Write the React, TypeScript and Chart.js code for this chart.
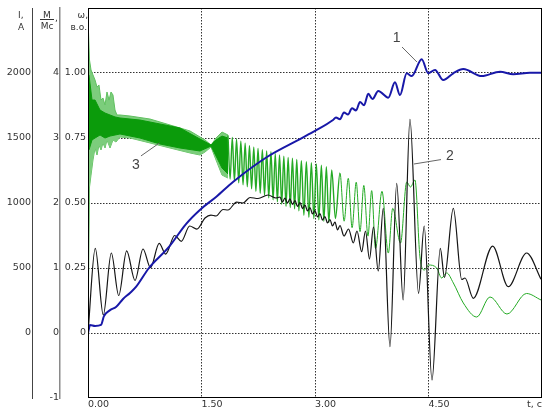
import React, { useEffect, useRef } from 'react';
import { Chart, registerables } from 'chart.js';
Chart.register(...registerables);

// ---- tick values ----
const timeTicks = [0, 1.5, 3, 4.5];
const currentTicks = [0, 500, 1000, 1500, 2000];
const torqueTicks = [-1, 0, 1, 2, 3, 4];
const speedTicks = [0, 0.25, 0.5, 0.75, 1];

// ---- curve 1: speed ω, p.u. ----
const speedT = [0, 0.009, 0.026, 0.093, 0.172, 0.211, 0.291, 0.370, 0.463, 0.555, 0.634, 0.806, 1.070, 1.295, 1.493, 1.692, 1.916, 2.366, 2.802, 3.000, 3.238, 3.277, 3.330, 3.383, 3.436, 3.489, 3.542, 3.595, 3.648, 3.704, 3.760, 3.836, 3.969, 4.057, 4.123, 4.212, 4.278, 4.410, 4.497, 4.586, 4.695, 4.828, 4.960, 5.203, 5.445, 5.620, 5.841, 5.996];
const speedW = [0, 0.012, 0.031, 0.027, 0.031, 0.065, 0.088, 0.100, 0.131, 0.154, 0.177, 0.250, 0.331, 0.419, 0.477, 0.523, 0.581, 0.677, 0.746, 0.777, 0.819, 0.829, 0.822, 0.848, 0.840, 0.864, 0.856, 0.888, 0.876, 0.920, 0.900, 0.931, 0.905, 0.964, 0.915, 0.999, 0.988, 1.053, 0.999, 1.012, 0.973, 0.999, 1.015, 0.988, 1.005, 0.995, 1.001, 1.001];

// ---- curve 2: torque M/Mc ----
const torqueT = [0, 0.096, 0.202, 0.308, 0.406, 0.511, 0.621, 0.727, 0.826, 0.941, 1.027, 1.146, 1.233, 1.344, 1.438, 1.546, 1.625, 1.692, 1.784, 1.850, 1.965, 2.048, 2.141, 2.247, 2.379, 2.484, 2.537, 2.570, 2.603, 2.636, 2.669, 2.703, 2.736, 2.769, 2.802, 2.835, 2.868, 2.901, 2.934, 2.967, 3.000, 3.033, 3.066, 3.099, 3.132, 3.165, 3.198, 3.231, 3.264, 3.297, 3.330, 3.383, 3.443, 3.506, 3.555, 3.617, 3.667, 3.720, 3.773, 3.836, 3.902, 3.991, 4.080, 4.165, 4.255, 4.368, 4.443, 4.546, 4.656, 4.711, 4.828, 4.939, 4.982, 5.092, 5.348, 5.554, 5.797, 5.987];
const torqueM = [0, 1.303, 0.277, 1.231, 0.577, 1.262, 0.808, 1.292, 1.005, 1.380, 1.215, 1.500, 1.411, 1.646, 1.597, 1.769, 1.815, 1.800, 1.900, 1.892, 2.015, 2.000, 2.085, 2.069, 2.123, 2.077, 2.092, 2.015, 2.077, 2.000, 2.062, 1.977, 2.038, 1.946, 2.008, 1.915, 1.969, 1.877, 1.931, 1.831, 1.885, 1.785, 1.838, 1.738, 1.792, 1.692, 1.746, 1.646, 1.708, 1.585, 1.654, 1.492, 1.600, 1.385, 1.569, 1.251, 1.569, 1.138, 1.631, 0.954, 1.918, -0.211, 2.303, 0.508, 3.288, 0.611, 1.646, -0.723, 1.303, 0.854, 1.918, 0.823, 0.846, 0.534, 1.338, 0.712, 1.231, 0.826];

// ---- curve 3: current I, A ----
// dense start-up band: outer (light) and core (dark) envelopes
const outerHiT = [0, 0.007, 0.020, 0.040, 0.066, 0.093, 0.119, 0.145, 0.172, 0.198, 0.225, 0.251, 0.278, 0.304, 0.330, 0.357, 0.383, 0.423, 0.555, 0.819, 1.084, 1.348, 1.480, 1.546, 1.626, 1.692, 1.771, 1.850];
const outerHiI = [0, 2308, 2100, 2023, 1985, 1946, 1892, 1908, 1792, 1808, 1754, 1854, 1792, 1854, 1831, 1715, 1677, 1677, 1669, 1646, 1600, 1554, 1508, 1485, 1446, 1500, 1546, 1523];
const outerLoT = [0, 0.020, 0.040, 0.066, 0.093, 0.119, 0.145, 0.172, 0.198, 0.225, 0.251, 0.291, 0.330, 0.370, 0.423, 0.555, 0.819, 1.084, 1.348, 1.480, 1.546, 1.626, 1.692, 1.771, 1.850];
const outerLoI = [0, 1123, 1215, 1331, 1423, 1369, 1446, 1408, 1462, 1423, 1485, 1423, 1485, 1469, 1508, 1500, 1462, 1423, 1385, 1369, 1392, 1431, 1331, 1215, 1192];
const coreT = [0.013, 0.053, 0.093, 0.159, 0.225, 0.291, 0.357, 0.423, 0.687, 0.951, 1.216, 1.480, 1.626, 1.692, 1.771, 1.850];
const coreHiI = [1985, 1792, 1792, 1715, 1692, 1677, 1662, 1654, 1638, 1608, 1577, 1492, 1446, 1485, 1515, 1500];
const coreLoI = [1408, 1485, 1500, 1523, 1500, 1515, 1523, 1531, 1500, 1454, 1423, 1400, 1438, 1362, 1269, 1223];
// resolved oscillations and tail
const currentT = [1.850, 1.878, 1.907, 1.935, 1.963, 1.992, 2.020, 2.049, 2.077, 2.105, 2.134, 2.162, 2.191, 2.219, 2.247, 2.276, 2.304, 2.333, 2.361, 2.389, 2.418, 2.446, 2.475, 2.503, 2.531, 2.560, 2.588, 2.617, 2.645, 2.673, 2.702, 2.730, 2.759, 2.787, 2.820, 2.853, 2.886, 2.919, 2.952, 2.985, 3.018, 3.051, 3.084, 3.117, 3.150, 3.183, 3.221, 3.270, 3.330, 3.385, 3.440, 3.490, 3.545, 3.595, 3.645, 3.700, 3.749, 3.800, 3.885, 3.969, 4.027, 4.130, 4.212, 4.262, 4.321, 4.387, 4.447, 4.500, 4.608, 4.674, 4.740, 4.828, 4.960, 5.137, 5.313, 5.537, 5.795, 5.987];
const currentI = [1520, 1185, 1505, 1170, 1490, 1155, 1475, 1140, 1460, 1125, 1440, 1110, 1430, 1090, 1420, 1075, 1410, 1060, 1400, 1040, 1395, 1025, 1380, 1010, 1370, 990, 1360, 975, 1350, 965, 1345, 955, 1335, 940, 1325, 905, 1318, 890, 1310, 880, 1300, 870, 1290, 860, 1280, 850, 1254, 880, 1231, 860, 1190, 810, 1160, 780, 1135, 745, 1095, 650, 1090, 615, 959, 692, 1161, 1123, 1177, 585, 485, 523, 500, 423, 462, 385, 231, 123, 277, 146, 304, 254];

// ---- curve number labels (t, ω) ----
const labelText = ['1', '2', '3'];
const labelAt = [[4.08, 1.135], [4.784, 0.681], [0.634, 0.646]];
const leaderFrom = [[4.15, 1.10], [4.665, 0.667], [0.700, 0.681]];
const leaderTo = [[4.348, 1.042], [4.308, 0.650], [0.945, 0.731]];

const pts = (xs: number[], ys: number[]) => xs.map((x, i) => ({ x, y: ys[i] }));

const TICK_FONT = { family: '"DejaVu Sans", sans-serif', size: 9.5 };
const TICK_COLOR = '#333';

const decor = {
  id: 'decor',
  afterDraw(chart: any) {
    const { ctx, chartArea: a, scales } = chart;
    const sx = scales.x, sw = scales.yW, si = scales.yI, sm = scales.yM;
    ctx.save();
    // plot frame
    ctx.strokeStyle = '#000';
    ctx.lineWidth = 1;
    ctx.strokeRect(Math.round(a.left) + 0.5, Math.round(a.top) + 0.5,
      Math.round(a.right - a.left) - 1, Math.round(a.bottom - a.top) - 1);
    // axis titles
    ctx.fillStyle = '#333';
    ctx.font = '9px "DejaVu Sans", sans-serif';
    ctx.textBaseline = 'alphabetic';
    ctx.textAlign = 'left';
    ctx.fillText('I,', si.right - 14, 18);
    ctx.fillText('A', si.right - 14, 30);
    const mx = sm.right - 13;
    ctx.textAlign = 'center';
    ctx.fillText('M', mx, 18);
    ctx.fillRect(mx - 7, 19, 14, 1);
    ctx.fillText('Mc', mx, 29);
    ctx.textAlign = 'left';
    ctx.fillText(',', mx + 8, 21);
    ctx.textAlign = 'right';
    ctx.fillText('ω,', sw.right, 18);
    ctx.fillText('в.о.', sw.right - 1, 30);
    // time axis title
    ctx.textBaseline = 'middle';
    ctx.font = '9.5px "DejaVu Sans", sans-serif';
    ctx.fillText('t, с', a.right, a.bottom + 7);
    // curve labels
    ctx.strokeStyle = '#666';
    ctx.lineWidth = 1;
    ctx.fillStyle = '#444';
    ctx.font = '14px "Liberation Sans", sans-serif';
    ctx.textAlign = 'center';
    ctx.textBaseline = 'middle';
    for (let i = 0; i < labelText.length; i++) {
      ctx.beginPath();
      ctx.moveTo(sx.getPixelForValue(leaderFrom[i][0]), sw.getPixelForValue(leaderFrom[i][1]));
      ctx.lineTo(sx.getPixelForValue(leaderTo[i][0]), sw.getPixelForValue(leaderTo[i][1]));
      ctx.stroke();
      ctx.fillText(labelText[i], sx.getPixelForValue(labelAt[i][0]), sw.getPixelForValue(labelAt[i][1]));
    }
    ctx.restore();
  },
};

export default function App() {
  const ref = useRef<HTMLCanvasElement>(null);
  useEffect(() => {
    document.body.style.margin = '0';
    const chart = new Chart(ref.current as HTMLCanvasElement, {
      type: 'line',
      data: {
        datasets: [
          { data: pts(speedT, speedW), yAxisID: 'yW', borderColor: '#1818a8', borderWidth: 2, pointRadius: 0, cubicInterpolationMode: 'monotone', fill: false },
          { data: pts(torqueT, torqueM), yAxisID: 'yM', borderColor: '#151515', borderWidth: 1.2, pointRadius: 0, cubicInterpolationMode: 'monotone', fill: false },
          {
            data: pts(currentT, currentI), yAxisID: 'yI', borderColor: '#24aa24', borderWidth: 1, pointRadius: 0, cubicInterpolationMode: 'monotone', fill: false,
            segment: { borderWidth: (c: any) => (c.p0.parsed.x < 3.3 ? 1.4 : 1) },
          },
          { data: pts(coreT, coreHiI), yAxisID: 'yI', borderColor: '#0b9b0b', backgroundColor: '#0b9b0b', borderWidth: 1, pointRadius: 0, tension: 0, fill: '+1' },
          { data: pts(coreT, coreLoI), yAxisID: 'yI', borderColor: '#0b9b0b', borderWidth: 1, pointRadius: 0, tension: 0, fill: false },
          { data: pts(outerHiT, outerHiI), yAxisID: 'yI', borderColor: '#5fc05f', backgroundColor: '#7ccd7c', borderWidth: 1, pointRadius: 0, tension: 0, fill: '+1' },
          { data: pts(outerLoT, outerLoI), yAxisID: 'yI', borderColor: '#5fc05f', borderWidth: 1, pointRadius: 0, tension: 0, fill: false },
        ],
      } as any,
      options: {
        animation: false,
        responsive: false,
        devicePixelRatio: 1,
        layout: { padding: { top: 8, right: 1, left: 0, bottom: 0 } },
        plugins: { legend: { display: false }, tooltip: { enabled: false } },
        scales: {
          x: {
            type: 'linear', min: 0, max: 6,
            afterBuildTicks: (s: any) => { s.ticks = timeTicks.map((v) => ({ value: v })); },
            afterFit: (s: any) => { s.height = 14; },
            ticks: { align: 'start', padding: 1, maxRotation: 0, autoSkip: false, font: TICK_FONT, color: TICK_COLOR, callback: (v: any) => Number(v).toFixed(2) },
            grid: { drawTicks: false, lineWidth: 1, color: (c: any) => (c.tick && c.tick.value === 0 ? 'rgba(0,0,0,0)' : '#333') },
            border: { display: false, dash: [1.5, 1.5] },
          },
          yW: {
            type: 'linear', position: 'left', weight: 0, min: -0.25, max: 1.25,
            afterBuildTicks: (s: any) => { s.ticks = speedTicks.map((v) => ({ value: v })); },
            afterFit: (s: any) => { s.width = 28; },
            ticks: { padding: 2, font: TICK_FONT, color: TICK_COLOR, callback: (v: any) => (Number(v) === 0 ? '0' : Number(v).toFixed(2)) },
            grid: { drawTicks: false, lineWidth: 1, color: '#333' },
            border: { display: false, dash: [1.5, 1.5] },
          },
          yM: {
            type: 'linear', position: 'left', weight: 1, min: -1, max: 5,
            afterBuildTicks: (s: any) => { s.ticks = torqueTicks.map((v) => ({ value: v })); },
            afterFit: (s: any) => { s.width = 28; },
            ticks: { padding: 1, font: TICK_FONT, color: TICK_COLOR, callback: (v: any) => String(v) },
            grid: { display: false, drawTicks: false },
            border: { display: true, color: '#8a8a8a', width: 1.5 },
          },
          yI: {
            type: 'linear', position: 'left', weight: 2, min: -500, max: 2500,
            afterBuildTicks: (s: any) => { s.ticks = currentTicks.map((v) => ({ value: v })); },
            afterFit: (s: any) => { s.width = 32; },
            ticks: { padding: 1, font: TICK_FONT, color: TICK_COLOR, callback: (v: any) => String(v) },
            grid: { display: false, drawTicks: false },
            border: { display: true, color: '#444', width: 1 },
          },
        },
      } as any,
      plugins: [decor],
    });
    return () => chart.destroy();
  }, []);
  return <canvas ref={ref} width={543} height={412} style={{ display: 'block', width: 543, height: 412 }} />;
}
